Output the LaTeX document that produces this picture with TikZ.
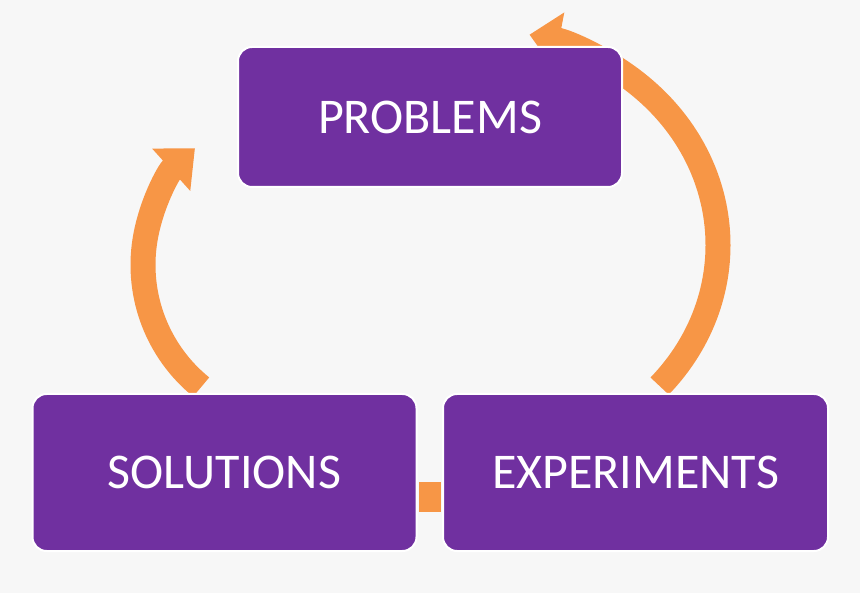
\documentclass[tikz,border=0pt]{standalone}
\usepackage{fontspec}
\setmainfont{Carlito}
\usetikzlibrary{arrows.meta}
\definecolor{bg}{HTML}{F7F7F7}
\definecolor{purp}{HTML}{7030A0}
\definecolor{orng}{HTML}{F79646}
\begin{document}
\begin{tikzpicture}[x=1pt,y=-1pt,
  box/.style={draw=white,line width=2pt,fill=purp,rounded corners=14pt,text=white,font=\fontsize{50}{60}\selectfont,minimum width=384pt,minimum height=140pt,inner sep=0pt},
  arc/.style={draw=orng,line width=25pt}]
\fill[bg] (0,0) rectangle (860,593);
\useasboundingbox (0,0) rectangle (860,593);
% right arc
\coordinate (rc) at (480,245);
\draw[arc,-{Triangle[width=55pt,length=30pt]}] ([shift={(-41:238 and -215)}]rc) arc[start angle=-41,end angle=78,x radius=238,y radius=-215];
% left arc
\coordinate (lc) at (300,265);
\draw[arc,-{Triangle[width=55pt,length=32pt]}] ([shift={(231:157 and -157)}]lc) arc[start angle=231,end angle=132,x radius=157,y radius=-157];
\node[box] (p) at (430,117) {PROBLEMS};
\node[box,minimum height=157pt] (s) at (224.5,472.5) {SOLUTIONS};
\node[box,minimum height=157pt,minimum width=385pt] (e) at (635.5,472.5) {EXPERIMENTS};
\fill[orng] (419,482) rectangle (441,512);
\end{tikzpicture}
\end{document}
